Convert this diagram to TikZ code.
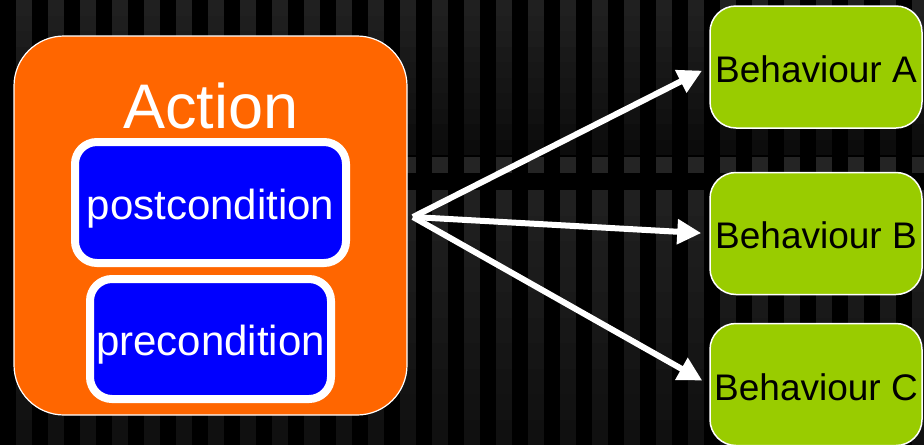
\documentclass[tikz,border=0pt]{standalone}
\usepackage{fontspec}
\setmainfont{Liberation Sans}
\usetikzlibrary{arrows.meta}
\definecolor{actorange}{HTML}{FF6600}
\definecolor{condblue}{HTML}{0000FF}
\definecolor{behgreen}{HTML}{99CC00}
\definecolor{stripetop}{HTML}{202020}
\definecolor{stripemid}{HTML}{0A0A0A}
\definecolor{stripesq}{HTML}{242424}
\definecolor{stripebot}{HTML}{0E0E0E}
\tikzset{
  actionbox/.style={draw=white, line width=1.2pt, fill=actorange, rounded corners=50pt,
    minimum width=393pt, minimum height=379pt, inner sep=0pt},
  condbox/.style={draw=white, line width=8pt, fill=condblue, rounded corners=22pt,
    inner sep=0pt, text=white, font=\fontsize{42}{46}\selectfont,
    text height=34pt, text depth=0pt},
  behbox/.style={draw=white, line width=1.5pt, fill=behgreen, rounded corners=26pt,
    minimum width=212pt, minimum height=122pt, inner sep=0pt, text=black,
    font=\fontsize{37}{40}\selectfont, text height=30pt, text depth=0pt},
  flow/.style={draw=white, line width=6pt, -{Triangle[length=24pt,width=24pt]}, shorten >=8pt}
}
\begin{document}
\begin{tikzpicture}[x=1pt,y=-1pt]
\fill[black] (0,0) rectangle (924,445);
\useasboundingbox (0,0) rectangle (924,445);
\foreach \i in {0,...,9} {
  \pgfmathsetmacro\p{100-10*\i}
  \pgfmathsetmacro\ya{15.5*\i}
  \pgfmathsetmacro\yb{15.5*(\i+1)}
  \pgfmathsetmacro\yc{190+25.5*\i}
  \pgfmathsetmacro\yd{190+25.5*(\i+1)}
  \foreach \k in {0,...,28} {
    \pgfmathsetmacro\xa{16+32*\k}
    \pgfmathsetmacro\xb{min(\xa+16,924)}
    \fill[stripetop!\p!stripemid] (\xa,\ya) rectangle (\xb,\yb);
    \fill[stripetop!\p!stripebot] (\xa,\yc) rectangle (\xb,\yd);
  }
}
\foreach \k in {0,...,28} {
  \pgfmathsetmacro\xa{16+32*\k}
  \pgfmathsetmacro\xb{min(\xa+16,924)}
  \fill[stripesq] (\xa,157) rectangle (\xb,173);
}
% Action
\node[actionbox] (act) at (210.5,225.5) {};
\node[anchor=base, text=white, font=\fontsize{63}{68}\selectfont, inner sep=0pt] (acttitle) at (211,128) {Action};
\node[condbox, minimum width=271pt, minimum height=121pt] (post) at (210.5,202.5) {postcondition};
\node[condbox, minimum width=241pt, minimum height=120pt, text height=32pt] (pre) at (210.5,339) {precondition};
% Behaviours
\node[behbox] (behA) at (816,67) {Behaviour A};
\node[behbox, text height=29pt] (behB) at (816,233.5) {Behaviour B};
\node[behbox, text height=32pt] (behC) at (816,384.5) {Behaviour C};
% Arrows
\coordinate (src) at (413,217);
\draw[flow] (src) -- (behA.west);
\draw[flow] (src) -- (behB.west);
\draw[flow] (src) -- (behC.west);
\end{tikzpicture}
\end{document}
